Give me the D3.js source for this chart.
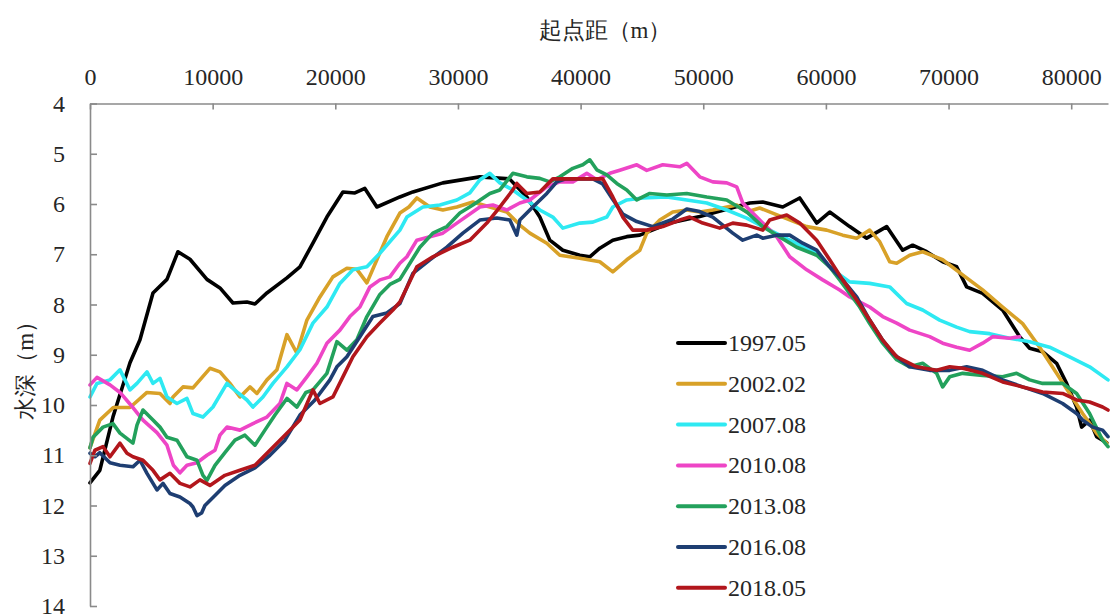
<!DOCTYPE html>
<html>
<head>
<meta charset="utf-8">
<script src="https://cdn.jsdelivr.net/npm/d3@7"></script>
<style>
body { margin: 0; background: #fff; }
</style>
</head>
<body>
<div id="chart"></div>
<script>
const svgWidth = 1115;
const svgHeight = 615;
const margin = {top: 103.5, right: 7, bottom: 9, left: 90};

const width = svgWidth - margin.left - margin.right;
const height = svgHeight - margin.top - margin.bottom;

// [起点距 m, 水深 m]
const s1997 = [[0,11.55],[800,11.3],[1870,10.24],[3260,9.16],[4075,8.7],[5135,7.77],[6275,7.5],[7170,6.95],[8150,7.1],[9535,7.5],[10595,7.67],[11655,7.97],[12795,7.95],[13450,7.99],[14425,7.77],[16055,7.47],[17115,7.25],[18175,6.78],[19315,6.26],[20620,5.76],[21600,5.78],[22410,5.69],[23390,6.06],[25265,5.86],[26325,5.76],[28770,5.58],[31785,5.46],[34200,5.5],[35615,5.86],[36675,6.26],[37490,6.72],[38550,6.92],[39935,7.02],[40750,7.05],[41565,6.88],[42625,6.72],[43765,6.65],[44825,6.62],[47270,6.38],[49715,6.25],[52000,6.1],[53790,5.98],[54850,5.96],[56480,6.06],[57865,5.88],[59250,6.38],[60310,6.16],[61940,6.45],[63325,6.68],[64955,6.45],[66260,6.92],[67075,6.82],[68215,6.95],[69520,7.15],[70660,7.25],[71475,7.65],[72780,7.78],[74410,8.11],[75795,8.64],[76610,8.87],[77670,8.94],[78810,9.17],[79625,9.57],[80440,10.04],[80850,10.44],[81500,10.3],[82070,10.63],[82560,10.7],[82900,10.75]];
const s2002 = [[0,10.85],[800,10.3],[1900,10.05],[3260,10.05],[4645,9.75],[5705,9.77],[6520,9.97],[6765,9.84],[7580,9.64],[8395,9.66],[9780,9.27],[10595,9.34],[11410,9.57],[12225,9.84],[13040,9.64],[13610,9.77],[14425,9.5],[15240,9.3],[16055,8.6],[16870,8.97],[17685,8.31],[18745,7.85],[19805,7.45],[20945,7.28],[21760,7.3],[22575,7.57],[23390,7.11],[24205,6.65],[25265,6.18],[26000,6.06],[26650,5.88],[27710,6.06],[28770,6.12],[29910,6.06],[31215,5.96],[32600,6.06],[33985,6.16],[35045,6.42],[35860,6.58],[37245,6.78],[38305,7.02],[39935,7.08],[41565,7.15],[42625,7.35],[43765,7.11],[44825,6.92],[45395,6.58],[46455,6.32],[47515,6.16],[48655,6.12],[49715,6.16],[50775,6.12],[52730,6.02],[53545,6.16],[54605,6.08],[56480,6.26],[58435,6.45],[60065,6.52],[61370,6.62],[62510,6.68],[63570,6.52],[64385,6.75],[65200,7.15],[65770,7.18],[66830,7.02],[67890,6.95],[69520,7.11],[71150,7.41],[72780,7.71],[74410,8.05],[76040,8.38],[77425,8.85],[78810,9.37],[79870,9.77],[80930,10.17],[82070,10.56],[82900,10.76]];
const s2007 = [[0,9.84],[570,9.57],[1630,9.5],[2445,9.3],[3260,9.7],[3830,9.57],[4645,9.34],[5135,9.57],[5705,9.47],[6275,9.84],[7090,9.97],[7905,9.87],[8395,10.17],[9210,10.24],[10025,10.04],[11165,9.57],[11980,9.74],[12795,9.9],[13285,10.04],[14100,9.84],[14915,9.57],[16055,9.24],[17115,8.9],[18175,8.37],[19315,8.05],[20375,7.58],[21435,7.31],[22575,7.25],[23635,6.98],[25265,6.52],[25835,6.26],[27140,6.06],[28525,6.02],[29910,5.92],[30970,5.78],[31785,5.52],[32600,5.39],[33415,5.58],[34475,5.72],[35615,5.92],[36675,6.12],[37735,6.26],[38550,6.48],[39935,6.38],[40995,6.36],[42135,6.26],[42625,6.06],[43765,5.92],[45070,5.88],[47025,5.86],[48655,5.92],[50285,5.98],[51915,6.12],[53545,6.28],[55420,6.52],[57050,6.72],[59250,6.98],[60555,7.31],[61940,7.55],[63570,7.58],[65200,7.65],[66585,7.98],[67890,8.11],[69275,8.31],[70660,8.45],[71720,8.54],[73350,8.58],[74980,8.67],[76610,8.74],[78240,8.85],[79870,9.04],[81500,9.24],[83000,9.5]];
const s2010 = [[0,9.6],[570,9.45],[1630,9.6],[2445,9.75],[3500,10.05],[4320,10.3],[5460,10.55],[6275,10.8],[6800,11.2],[7335,11.35],[7905,11.2],[8720,11.15],[9535,11.0],[10190,10.9],[10595,10.6],[11165,10.44],[12225,10.5],[13285,10.37],[14425,10.24],[15485,9.97],[16055,9.57],[16870,9.7],[17685,9.44],[18500,9.17],[19315,8.77],[20375,8.51],[21190,8.24],[22005,8.05],[22820,7.65],[23635,7.51],[24450,7.45],[25265,7.18],[25835,7.05],[26650,6.72],[27710,6.65],[28770,6.58],[29910,6.38],[31785,6.06],[32845,6.02],[33985,6.12],[35045,5.98],[35860,5.92],[37245,5.66],[38305,5.56],[39365,5.56],[40505,5.39],[41320,5.52],[42380,5.39],[43195,5.33],[44580,5.22],[45395,5.33],[46700,5.22],[48085,5.26],[48655,5.19],[49715,5.46],[50775,5.56],[51915,5.58],[52730,5.66],[53220,5.98],[53790,6.12],[54850,6.38],[55990,6.65],[57050,7.05],[58435,7.31],[59740,7.51],[61125,7.71],[61940,7.85],[63570,8.05],[64630,8.24],[65770,8.37],[66830,8.51],[68460,8.64],[69520,8.77],[70660,8.85],[71720,8.91],[72780,8.77],[73595,8.64],[74980,8.67],[75795,8.64]];
const s2013 = [[0,10.85],[245,10.64],[1060,10.44],[1870,10.37],[2445,10.56],[3500,10.76],[3830,10.4],[4320,10.1],[5135,10.3],[5705,10.44],[6275,10.64],[7090,10.7],[7905,11.03],[8720,11.1],[9210,11.4],[9535,11.5],[10190,11.2],[11000,10.95],[11820,10.7],[12630,10.6],[13450,10.8],[14260,10.5],[15080,10.2],[16055,9.87],[16870,10.04],[17600,9.75],[18175,9.7],[19315,9.37],[20130,8.74],[20945,8.91],[21760,8.7],[22575,8.24],[23635,7.8],[24450,7.6],[25265,7.5],[26895,6.86],[27955,6.58],[29095,6.45],[30155,6.18],[31215,6.02],[32600,5.79],[33415,5.72],[34475,5.39],[35615,5.46],[36675,5.49],[37490,5.56],[38305,5.46],[39365,5.29],[40180,5.22],[40750,5.12],[41320,5.32],[42135,5.42],[42950,5.59],[43765,5.72],[44580,5.92],[45640,5.79],[47025,5.82],[48655,5.79],[50285,5.86],[51915,5.92],[53545,6.16],[54850,6.45],[55990,6.62],[57620,6.86],[59250,7.02],[60310,7.25],[61125,7.51],[61940,7.78],[62755,8.05],[63570,8.38],[64630,8.77],[65770,9.1],[66830,9.24],[67890,9.17],[69030,9.37],[69520,9.64],[70090,9.44],[71150,9.37],[72780,9.41],[74410,9.44],[75550,9.37],[76610,9.5],[77670,9.57],[79300,9.57],[80440,9.77],[81500,10.17],[82560,10.7],[83000,10.83]];
const s2016 = [[0,10.96],[400,11.03],[800,10.95],[1630,11.15],[2445,11.2],[3500,11.23],[4075,11.1],[4645,11.36],[5460,11.69],[5950,11.56],[6520,11.76],[7335,11.83],[8150,11.96],[8395,12.03],[8720,12.2],[9100,12.15],[9370,12.0],[10190,11.8],[11000,11.6],[12225,11.4],[13450,11.25],[14670,11.0],[15890,10.7],[17115,10.2],[18340,9.9],[19560,9.5],[20130,9.24],[20945,9.04],[22005,8.64],[23065,8.24],[24205,8.17],[25265,7.98],[26325,7.38],[27710,7.11],[29095,6.86],[30400,6.58],[31785,6.32],[33170,6.28],[34230,6.32],[34800,6.62],[35045,6.32],[36105,6.06],[37245,5.79],[38060,5.56],[38800,5.5],[41000,5.5],[41800,5.6],[42600,5.9],[43440,6.2],[44580,6.35],[45885,6.45],[47515,6.3],[48655,6.1],[49715,6.15],[50775,6.26],[52405,6.58],[53220,6.72],[54360,6.62],[54850,6.68],[55990,6.62],[57050,6.62],[58110,6.78],[59250,6.92],[60310,7.25],[61370,7.51],[62510,7.85],[63570,8.31],[64630,8.71],[65445,8.97],[66830,9.24],[68460,9.31],[70090,9.31],[71475,9.24],[72780,9.31],[74410,9.5],[76040,9.64],[77670,9.77],[79300,9.97],[80440,10.17],[80930,10.3],[81745,10.44],[82560,10.5],[83000,10.63]];
const s2018 = [[0,11.16],[400,10.9],[1060,10.83],[1630,11.03],[2445,10.76],[3015,10.96],[3500,11.03],[4320,11.1],[5135,11.3],[5705,11.49],[6520,11.36],[7335,11.56],[8150,11.63],[8965,11.49],[9780,11.6],[11000,11.4],[12225,11.3],[13450,11.2],[14670,10.9],[15890,10.6],[17115,10.3],[18175,9.7],[18745,9.97],[19805,9.84],[20620,9.44],[21435,9.04],[22575,8.64],[23635,8.37],[24695,8.11],[25265,7.95],[26650,7.25],[27955,7.05],[29585,6.86],[30970,6.72],[32355,6.38],[33415,6.06],[34475,5.72],[34800,5.59],[35615,5.79],[36675,5.76],[37490,5.56],[37735,5.5],[41810,5.5],[42625,5.86],[43440,6.26],[44255,6.52],[45395,6.52],[46700,6.45],[48085,6.32],[48900,6.26],[49960,6.38],[51345,6.48],[52405,6.38],[53545,6.42],[54850,6.52],[55420,6.32],[56805,6.22],[57865,6.38],[59250,6.72],[60310,7.11],[61370,7.51],[62510,7.91],[63570,8.31],[64630,8.71],[65770,9.04],[67400,9.24],[69030,9.31],[70090,9.24],[71150,9.27],[72780,9.37],[74410,9.54],[76040,9.64],[77670,9.74],[79300,9.77],[80440,9.9],[81500,9.94],[82560,10.04],[83000,10.1]];

const seriesNames = ["1997.05", "2002.02", "2007.08", "2010.08", "2013.08", "2016.08", "2018.05"];
const seriesData = [s1997, s2002, s2007, s2010, s2013, s2016, s2018];
const seriesColors = ["#000000", "#D8A128", "#2EE9F2", "#EE45C6", "#23A15C", "#1E3E72", "#B2161C"];

const xTicks = [0, 10000, 20000, 30000, 40000, 50000, 60000, 70000, 80000];
const yTicks = [4, 5, 6, 7, 8, 9, 10, 11, 12, 13, 14];

const fontName = "Liberation Serif";
const axisColor = "#8a8a8a";
const textColor = "#262626";

const x = d3.scaleLinear()
    .domain([0, 83000])
    .range([0, width]);

const y = d3.scaleLinear()
    .domain([4, 14])
    .range([0, height]);

const svg = d3.select("#chart")
    .append("svg")
    .attr("width", svgWidth)
    .attr("height", svgHeight)
    .append("g")
    .attr("transform", `translate(${margin.left},${margin.top})`);

// lines
const line = d3.line()
    .x(d => x(d[0]))
    .y(d => y(d[1]));

seriesData.forEach((s, i) => {
    svg.append("path")
        .datum(s)
        .attr("d", line)
        .attr("fill", "none")
        .attr("stroke", seriesColors[i])
        .attr("stroke-width", 3.6)
        .attr("stroke-linejoin", "round")
        .attr("stroke-linecap", "round");
});

// x axis on top, ticks pointing inward
const xAxis = d3.axisTop(x)
    .tickValues(xTicks)
    .tickSizeInner(-6)
    .tickSizeOuter(0)
    .tickPadding(19)
    .tickFormat(d3.format("d"));

const gx = svg.append("g").call(xAxis);

const yAxis = d3.axisLeft(y)
    .tickValues(yTicks)
    .tickSizeInner(-7)
    .tickSizeOuter(0)
    .tickPadding(25)
    .tickFormat(d3.format("d"));

const gy = svg.append("g").call(yAxis);

[gx, gy].forEach(g => {
    g.attr("font-size", 24);
    g.select(".domain").attr("stroke", axisColor).attr("stroke-width", 1.6);
    g.selectAll(".tick line").attr("stroke", axisColor).attr("stroke-width", 1.6);
    g.selectAll(".tick text").attr("fill", textColor);
});

// axis titles
svg.append("text")
    .attr("x", width / 2 + 6)
    .attr("y", -margin.top + 38)
    .attr("text-anchor", "middle")
    .attr("font-size", 23)
    .attr("fill", textColor)
    .text("起点距（m）");

svg.append("text")
    .attr("transform", `translate(${-margin.left + 33},${y(9.2)}) rotate(-90)`)
    .attr("text-anchor", "middle")
    .attr("font-size", 23)
    .attr("fill", textColor)
    .text("水深（m）");

// legend
const legend = svg.append("g")
    .attr("transform", `translate(${678 - margin.left},${343 - margin.top})`);

seriesNames.forEach((name, i) => {
    const row = legend.append("g").attr("transform", `translate(0,${i * 40.8})`);
    row.append("line")
        .attr("x1", 0).attr("x2", 47)
        .attr("y1", 0).attr("y2", 0)
        .attr("stroke", seriesColors[i])
        .attr("stroke-width", 4)
        .attr("stroke-linecap", "round");
    row.append("text")
        .attr("x", 50)
        .attr("y", 8)
        .attr("font-size", 24)
        .attr("fill", textColor)
        .text(name);
});

svg.selectAll("text").style("font-family", fontName);
</script>
</body>
</html>
